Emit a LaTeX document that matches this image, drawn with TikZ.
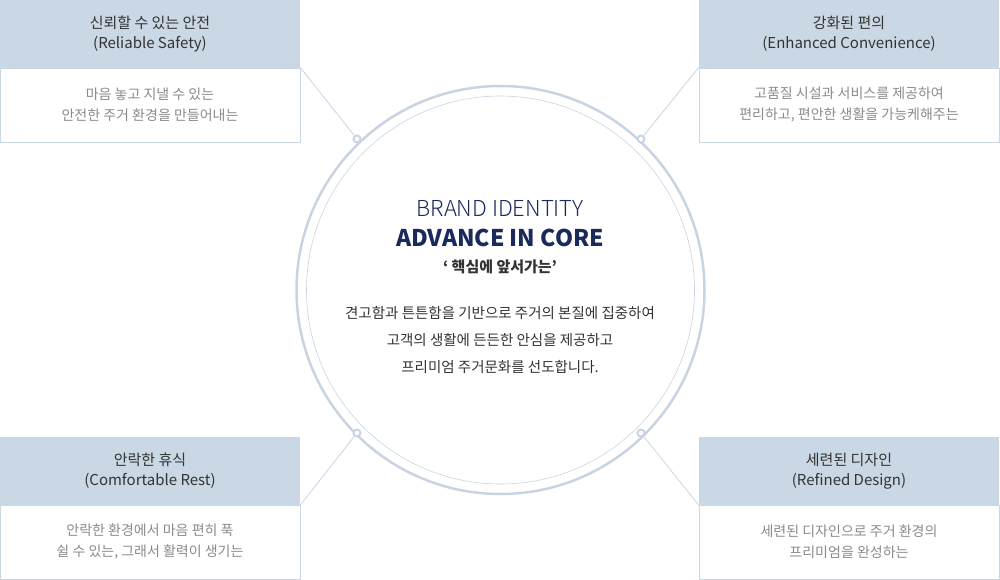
\documentclass[tikz,border=0pt]{standalone}
\usepackage{fontspec}
\setmainfont{Noto Sans CJK KR}
\newfontfamily\lightf{Noto Sans CJK KR Light}
\definecolor{hdr}{HTML}{CAD7E4}
\definecolor{ring}{HTML}{C9D4E2}
\definecolor{ttl}{HTML}{333333}
\definecolor{bodyc}{HTML}{8A8A8A}
\definecolor{navy}{HTML}{1B2A5A}
\tikzset{
 hbox/.style={fill=hdr,draw=none,minimum width=300pt,minimum height=68pt,inner sep=0pt,align=center,font=\fontsize{15}{20}\selectfont,text=ttl},
 bbox/.style={draw=hdr,line width=0.8pt,minimum width=300pt,minimum height=74pt,inner sep=0pt,align=center,font=\fontsize{14}{21}\selectfont,text=bodyc},
 link/.style={draw=ring,line width=0.8pt},
 dotc/.style={circle,draw=ring,fill=white,line width=2pt,minimum size=7pt,inner sep=0pt}
}
\begin{document}
\begin{tikzpicture}[x=1pt,y=-1pt]
\useasboundingbox (0,0) rectangle (1000,580);
\draw[ring,line width=2.5pt] (500.5,290) circle (204);
\draw[ring,line width=0.6pt] (500.5,290) circle (194);
% boxes
\node[hbox] (h1) at (150,34) {신뢰할 수 있는 안전\\(Reliable Safety)};
\node[bbox] (b1) at (150,105) {마음 놓고 지낼 수 있는\\안전한 주거 환경을 만들어내는};
\node[hbox] (h2) at (849,34) {강화된 편의\\(Enhanced Convenience)};
\node[bbox] (b2) at (849,105) {고품질 시설과 서비스를 제공하여\\편리하고, 편안한 생활을 가능케해주는};
\node[hbox] (h3) at (150,471) {안락한 휴식\\(Comfortable Rest)};
\node[bbox] (b3) at (150,542) {안락한 환경에서 마음 편히 푹\\쉴 수 있는, 그래서 활력이 생기는};
\node[hbox] (h4) at (849,471) {세련된 디자인\\(Refined Design)};
\node[bbox] (b4) at (849,542) {세련된 디자인으로 주거 환경의\\프리미엄을 완성하는};
% dots
\node[dotc] (d1) at (357,139) {};
\node[dotc] (d2) at (641,139) {};
\node[dotc] (d3) at (357,433) {};
\node[dotc] (d4) at (641,433) {};
\draw[link] (b1.north east) -- (d1);
\draw[link] (b2.north west) -- (d2);
\draw[link] (h3.south east) -- (d3);
\draw[link] (h4.south west) -- (d4);
% center text
\node[font=\lightf\fontsize{22}{26}\selectfont,text=navy] (t1) at (500,208) {BRAND IDENTITY};
\node[font=\bfseries\fontsize{23}{26}\selectfont,text=navy] (t2) at (500,238) {ADVANCE IN CORE};
\node[font=\bfseries\fontsize{15}{18}\selectfont,text=ttl] (t3) at (500,267) {‘ 핵심에 앞서가는’};
\node[font=\fontsize{14.5}{27}\selectfont,text=ttl,align=center] (t4) at (500,340) {견고함과 튼튼함을 기반으로 주거의 본질에 집중하여\\고객의 생활에 든든한 안심을 제공하고\\프리미엄 주거문화를 선도합니다.};
\end{tikzpicture}
\end{document}
